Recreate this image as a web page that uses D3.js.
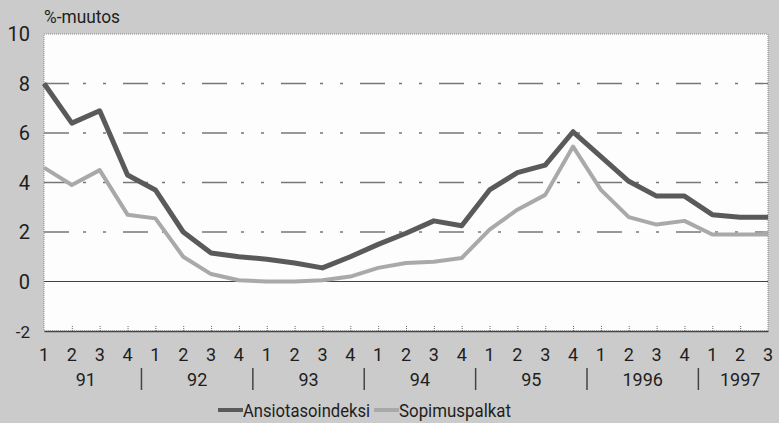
<!DOCTYPE html>
<html>
  <head>
    <meta charset="utf-8">
    <script type="text/javascript" src="https://cdn.jsdelivr.net/npm/d3@7"></script>
    <style>
      body { margin: 0; background: #cbcbcb; }
      text { font-family: Roboto, "DejaVu Sans", sans-serif; fill: #1e1e1e; }
    </style>
  </head>
  <body>
    <script type="text/javascript">
      // Quarters 1991 Q1 .. 1997 Q3
      var quarters = ["1","2","3","4","1","2","3","4","1","2","3","4","1","2","3","4",
                      "1","2","3","4","1","2","3","4","1","2","3"];
      var years = ["91", "92", "93", "94", "95", "1996", "1997"];
      var yTicks = [-2, 0, 2, 4, 6, 8, 10];

      // Annual change in %
      var ansiotaso = [8.0, 6.4, 6.9, 4.3, 3.7, 2.0, 1.15, 1.0, 0.9, 0.75, 0.55, 1.0, 1.5, 1.95,
                       2.45, 2.25, 3.7, 4.4, 4.7, 6.05, 5.05, 4.05, 3.45, 3.45, 2.7, 2.6, 2.6];
      var sopimus = [4.6, 3.9, 4.5, 2.7, 2.55, 1.0, 0.3, 0.05, 0.0, 0.0, 0.05, 0.2, 0.55, 0.75,
                     0.8, 0.95, 2.1, 2.9, 3.5, 5.45, 3.7, 2.6, 2.3, 2.45, 1.9, 1.9, 1.9];

      var width = 779;
      var height = 423;
      var plotLeft = 44, plotRight = 768, plotTop = 34, plotBottom = 331;

      var svg = d3.select("body")
                  .append("svg")
                  .attr("width", width)
                  .attr("height", height);

      var x = d3.scaleLinear()
                .domain([0, quarters.length - 1])
                .range([plotLeft, plotRight]);
      var y = d3.scaleLinear()
                .domain([-2, 10])
                .range([plotBottom, plotTop]);

      // Plot area
      svg.append("rect")
         .attr("x", plotLeft)
         .attr("y", plotTop)
         .attr("width", plotRight - plotLeft)
         .attr("height", plotBottom - plotTop)
         .attr("fill", "#fdfdfd")
         .attr("stroke", "#888")
         .attr("stroke-width", 1)
         .attr("stroke-dasharray", "1,1");

      // Grid lines
      svg.selectAll(".grid")
         .data([2, 4, 6, 8])
         .enter()
         .append("line")
         .attr("x1", plotLeft)
         .attr("x2", plotRight)
         .attr("y1", function(d) { return y(d); })
         .attr("y2", function(d) { return y(d); })
         .attr("stroke", "#777")
         .attr("stroke-width", 1.3)
         .attr("stroke-dasharray", "25,14,3,17,3,17");

      // Zero line
      svg.append("line")
         .attr("x1", plotLeft)
         .attr("x2", plotRight)
         .attr("y1", y(0))
         .attr("y2", y(0))
         .attr("stroke", "#444")
         .attr("stroke-width", 1.2);

      // Bottom axis line and quarter ticks
      var xAxis = d3.axisBottom(x)
                    .tickValues(d3.range(1, quarters.length - 1))
                    .tickSizeInner(-6)
                    .tickSizeOuter(0)
                    .tickFormat("");
      var gx = svg.append("g")
                  .attr("transform", "translate(0," + plotBottom + ")")
                  .call(xAxis);
      gx.select(".domain").attr("stroke", "#444").attr("stroke-width", 1.5);
      gx.selectAll(".tick line").attr("stroke", "#666").attr("stroke-dasharray", "1,1");

      // Quarter labels
      svg.selectAll(".qlab")
         .data(quarters)
         .enter()
         .append("text")
         .attr("x", function(d, i) { return x(i); })
         .attr("y", 361)
         .attr("text-anchor", "middle")
         .attr("font-size", 18)
         .text(function(d) { return d; });

      // Year labels and separators
      svg.selectAll(".ylab")
         .data(years)
         .enter()
         .append("text")
         .attr("x", function(d, i) { return x(Math.min(i * 4 + 1.5, (i * 4 + quarters.length - 1) / 2)); })
         .attr("y", 386)
         .attr("text-anchor", "middle")
         .attr("font-size", 18)
         .text(function(d) { return d; });

      svg.selectAll(".sep")
         .data(years.slice(1))
         .enter()
         .append("line")
         .attr("x1", function(d, i) { return x((i + 1) * 4 - 0.5); })
         .attr("x2", function(d, i) { return x((i + 1) * 4 - 0.5); })
         .attr("y1", 368)
         .attr("y2", 390)
         .attr("stroke", "#444")
         .attr("stroke-width", 1.5);

      // Y axis labels
      svg.selectAll(".ytick")
         .data(yTicks)
         .enter()
         .append("text")
         .attr("x", 30)
         .attr("y", function(d) { return y(d) + 7; })
         .attr("text-anchor", "end")
         .attr("font-size", function(d) { return d === -2 ? 17 : 20; })
         .text(function(d) { return d; });

      svg.append("text")
         .attr("x", 44)
         .attr("y", 23)
         .attr("font-size", 18)
         .attr("textLength", 76)
         .attr("lengthAdjust", "spacingAndGlyphs")
         .text("%-muutos");

      // Lines
      var line = d3.line()
                   .x(function(d, i) { return x(i); })
                   .y(function(d) { return y(d); });

      svg.append("path")
         .datum(sopimus)
         .attr("d", line)
         .attr("fill", "none")
         .attr("stroke", "#a9a9a9")
         .attr("stroke-width", 4)
         .attr("stroke-linejoin", "round");

      svg.append("path")
         .datum(ansiotaso)
         .attr("d", line)
         .attr("fill", "none")
         .attr("stroke", "#5a5a5a")
         .attr("stroke-width", 5)
         .attr("stroke-linejoin", "round");

      // Legend
      var legend = [["Ansiotasoindeksi", "#5a5a5a", 218, 127], ["Sopimuspalkat", "#a9a9a9", 374, 112]];
      legend.forEach(function(l) {
        svg.append("line")
           .attr("x1", l[2])
           .attr("x2", l[2] + 25)
           .attr("y1", 410)
           .attr("y2", 410)
           .attr("stroke", l[1])
           .attr("stroke-width", 4);
        svg.append("text")
           .attr("x", l[2] + 25)
           .attr("y", 417)
           .attr("font-size", 19)
           .attr("textLength", l[3])
           .attr("lengthAdjust", "spacingAndGlyphs")
           .text(l[0]);
      });
    </script>
  </body>
</html>
